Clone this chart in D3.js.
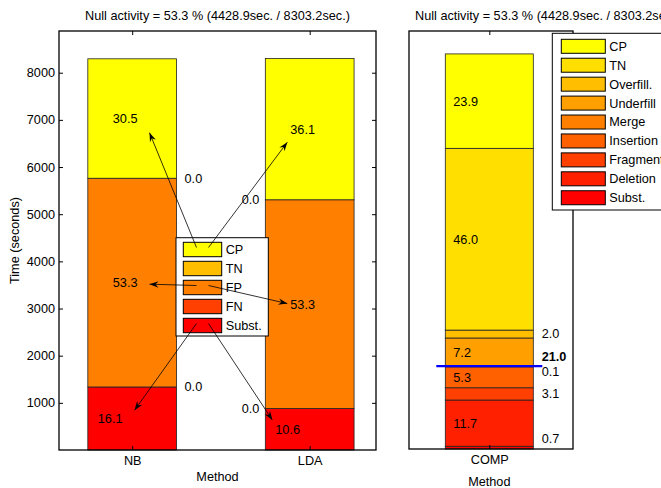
<!DOCTYPE html>
<html>
<head>
<meta charset="utf-8">
<title>Null activity</title>
<script src="https://d3js.org/d3.v7.min.js"></script>
<style>
body {margin:0; background:white;}
svg {display:block; font-family:"Liberation Sans", Arial, sans-serif; font-size:12.7px;}
</style>
</head>
<body>
<svg width="661" height="488"></svg>
<script>
// data
var methods = ["NB", "LDA"];
var keys = ["CP", "TN", "FP", "FN", "Subst."];
var nbPct = [30.5, 0.0, 53.3, 0.0, 16.1];
var ldaPct = [36.1, 0.0, 53.3, 0.0, 10.6];
var totalSec = 8303.2;
var nullSec = 4428.9;
var yTicks = [1000, 2000, 3000, 4000, 5000, 6000, 7000, 8000];

var compMethod = ["COMP"];
var compKeys = ["CP", "TN", "Overfill.", "Underfill", "Merge", "Insertion", "Fragmentation", "Deletion", "Subst."];
var compPct = [23.9, 46.0, 2.0, 7.2, 0.1, 5.3, 3.1, 11.7, 0.7];
var compErrPct = 21.0;

var font = "Liberation Sans, Arial, sans-serif";
var svg = d3.select("svg");
var title = "Null activity = " + (nullSec / totalSec * 100).toFixed(1) + " % (" +
  nullSec.toFixed(1) + "sec. / " + totalSec.toFixed(1) + "sec.)";

// autumn colormap, red at the bottom, yellow on top
function autumn(list) {
  var n = list.length;
  return d3.scaleOrdinal().domain(list)
    .range(list.map(function(k, i) { return d3.interpolateRgb("#ff0000", "#ffff00")((n - 1 - i) / (n - 1)); }));
}

svg.append("defs").append("marker")
  .attr("id", "head")
  .attr("viewBox", "-10 -5 12 10")
  .attr("refX", 0).attr("refY", 0)
  .attr("markerWidth", 12).attr("markerHeight", 10)
  .attr("markerUnits", "userSpaceOnUse")
  .attr("orient", "auto")
  .append("path")
  .attr("d", "M0,0 L-9,-3.2 L-6,0 L-9,3.2 Z")
  .attr("fill", "black");

// ---------------- left axes ----------------
var L = {left: 59, top: 31, right: 376, bottom: 450};
var x = d3.scalePoint().domain(methods).range([132.2, 309.7]);
var bw = x.step() * 0.5;
var y = d3.scaleLinear().domain([0, totalSec * 1.07]).range([L.bottom, L.top]);
var color = autumn(keys);

var rows = methods.map(function(m, j) {
  var pct = [nbPct, ldaPct][j];
  var r = {method: m};
  keys.forEach(function(k, i) { r[k] = pct[i] * totalSec / 100; });
  return r;
});
var stack = d3.stack().keys(keys.slice().reverse())(rows);

var gL = svg.append("g");
stack.forEach(function(layer) {
  gL.selectAll(null)
    .data(layer)
    .enter()
    .append("rect")
    .attr("x", function(d) { return x(d.data.method) - bw / 2; })
    .attr("y", function(d) { return y(d[1]); })
    .attr("width", bw)
    .attr("height", function(d) { return y(d[0]) - y(d[1]); })
    .attr("fill", color(layer.key))
    .attr("stroke", "#222")
    .attr("stroke-width", 0.8);
});

var labelNodes = {};
stack.forEach(function(layer) {
  layer.forEach(function(d, j) {
    var m = d.data.method;
    var pct = d.data[layer.key] / totalSec * 100;
    var mid = (y(d[0]) + y(d[1])) / 2;
    var t = gL.append("text").attr("dy", "0.35em").text(pct.toFixed(1));
    if (pct > 0) {
      t.attr("x", x(m) - bw / 2 + (layer.index === 0 ? 10 : 25)).attr("y", mid);
      labelNodes[layer.key + "|" + m] = t.node();
    } else if (j === 0) {
      t.attr("x", x(m) + bw / 2 + 8).attr("y", mid);
    } else {
      t.attr("x", x(m) - bw / 2 - 6).attr("y", mid).attr("text-anchor", "end");
    }
  });
});

// axes
svg.append("g").attr("transform", "translate(0," + L.bottom + ")")
  .call(d3.axisBottom(x).tickSizeInner(-4).tickSizeOuter(0).tickPadding(6))
  .attr("font-family", font).attr("font-size", 12.7)
  .call(function(g) { g.select(".domain").remove(); });
svg.append("g").attr("transform", "translate(0," + L.top + ")")
  .call(d3.axisTop(x).tickSizeInner(-4).tickSizeOuter(0).tickFormat(""))
  .call(function(g) { g.select(".domain").remove(); });
svg.append("g").attr("transform", "translate(" + L.left + ",0)")
  .call(d3.axisLeft(y).tickValues(yTicks).tickFormat(d3.format("d")).tickSizeInner(-4).tickSizeOuter(0).tickPadding(4))
  .attr("font-family", font).attr("font-size", 12.7)
  .call(function(g) { g.select(".domain").remove(); });
svg.append("g").attr("transform", "translate(" + L.right + ",0)")
  .call(d3.axisRight(y).tickValues(yTicks).tickSizeInner(-4).tickSizeOuter(0).tickFormat(""))
  .call(function(g) { g.select(".domain").remove(); });
svg.append("rect")
  .attr("x", L.left).attr("y", L.top)
  .attr("width", L.right - L.left).attr("height", L.bottom - L.top)
  .attr("fill", "none").attr("stroke", "black").attr("stroke-width", 1.3);

svg.append("text").attr("x", (L.left + L.right) / 2).attr("y", 15.7).attr("dy", "0.35em")
  .attr("text-anchor", "middle").text(title);
svg.append("text").attr("x", (L.left + L.right) / 2).attr("y", 476.7).attr("dy", "0.35em")
  .attr("text-anchor", "middle").text("Method");
svg.append("text").attr("transform", "translate(15," + (L.top + L.bottom) / 2 + ") rotate(-90)")
  .attr("dy", "0.35em").attr("text-anchor", "middle").text("Time (seconds)");

// legend
var leg = {x: 176, y: 237.7, w: 92.3, h: 98.3};
svg.append("rect").attr("x", leg.x).attr("y", leg.y).attr("width", leg.w).attr("height", leg.h)
  .attr("fill", "white").attr("stroke", "black").attr("stroke-width", 1);
var legRow = svg.selectAll(null).data(keys).enter().append("g")
  .attr("transform", function(k, i) { return "translate(" + (leg.x + 7.3) + "," + (leg.y + 4.6 + i * 19) + ")"; });
legRow.append("rect").attr("width", 38.4).attr("height", 14.4)
  .attr("fill", function(k) { return color(k); }).attr("stroke", "black").attr("stroke-width", 1);
legRow.append("text").attr("x", 42.4).attr("y", 7.2).attr("dy", "0.35em").text(function(k) { return k; });

// arrows from legend entries to the labels
keys.forEach(function(k, i) {
  methods.forEach(function(m, j) {
    var node = labelNodes[k + "|" + m];
    if (!node) return;
    var b = node.getBBox();
    var tx = leg.x + 7.3 + 19.2 + (j === 0 ? -6 : 6);
    var ty = leg.y + 4.6 + i * 19 + 7.2 - 2;
    var cy = b.y + b.height / 2 + 1;
    var hx = tx > b.x + b.width ? b.x + b.width + 12 : (tx < b.x ? b.x - 3 : b.x + b.width / 2);
    var hy = cy + (ty - cy) * 0.1;
    svg.append("line")
      .attr("x1", tx).attr("y1", ty).attr("x2", hx).attr("y2", hy)
      .attr("stroke", "black").attr("stroke-width", 0.8)
      .attr("marker-end", "url(#head)");
  });
});

// ---------------- right axes ----------------
var R = {left: 409, top: 31, right: 573, bottom: 449};
var xc = d3.scalePoint().domain(compMethod).range([405.6, 573]);
var bwc = 88;
var yc = d3.scaleLinear().domain([0, 100 * 1.058]).range([R.bottom, R.top]);
var colorC = autumn(compKeys);

var crow = {method: compMethod[0]};
compKeys.forEach(function(k, i) { crow[k] = compPct[i]; });
var cstack = d3.stack().keys(compKeys.slice().reverse())([crow]);

var gR = svg.append("g");
cstack.forEach(function(layer) {
  gR.selectAll(null)
    .data(layer)
    .enter()
    .append("rect")
    .attr("x", function(d) { return xc(d.data.method) - bwc / 2; })
    .attr("y", function(d) { return yc(d[1]); })
    .attr("width", bwc)
    .attr("height", function(d) { return yc(d[0]) - yc(d[1]); })
    .attr("fill", colorC(layer.key))
    .attr("stroke", "#222")
    .attr("stroke-width", 0.8);
});

var cx = xc(compMethod[0]);
var errY = yc(compErrPct);
svg.append("line")
  .attr("x1", cx - bwc / 2 - 9).attr("x2", cx + bwc / 2 + 9)
  .attr("y1", errY).attr("y2", errY)
  .attr("stroke", "#0000ff").attr("stroke-width", 2.2);

// labels: big values inside, small ones to the right
var sideLabels = [{v: compErrPct, y: errY - 9, bold: true}];
cstack.forEach(function(layer) {
  var d = layer[0];
  var pct = d.data[layer.key];
  var mid = (yc(d[0]) + yc(d[1])) / 2;
  if (pct >= 5) {
    gR.append("text").attr("x", cx - bwc / 2 + 8).attr("y", mid).attr("dy", "0.35em").text(pct.toFixed(1));
  } else {
    sideLabels.push({v: pct, y: mid, bold: false});
  }
});
sideLabels.sort(function(a, b) { return a.y - b.y; });
var prevY = -100;
sideLabels.forEach(function(s) {
  if (!s.bold) s.y = Math.min(Math.max(s.y, prevY + 15), R.bottom - 10);
  prevY = s.y;
  gR.append("text").attr("x", cx + bwc / 2 + 8.4).attr("y", s.y).attr("dy", "0.35em")
    .attr("font-weight", s.bold ? "bold" : null).text(s.v.toFixed(1));
});

svg.append("g").attr("transform", "translate(0," + R.bottom + ")")
  .call(d3.axisBottom(xc).tickSizeInner(-4).tickSizeOuter(0).tickPadding(6))
  .attr("font-family", font).attr("font-size", 12.7)
  .call(function(g) { g.select(".domain").remove(); });
svg.append("g").attr("transform", "translate(0," + R.top + ")")
  .call(d3.axisTop(xc).tickSizeInner(-4).tickSizeOuter(0).tickFormat(""))
  .call(function(g) { g.select(".domain").remove(); });
svg.append("rect")
  .attr("x", R.left).attr("y", R.top)
  .attr("width", R.right - R.left).attr("height", R.bottom - R.top)
  .attr("fill", "none").attr("stroke", "black").attr("stroke-width", 1.3);

svg.append("text").attr("x", 415).attr("y", 15.7).attr("dy", "0.35em").text(title);
svg.append("text").attr("x", cx).attr("y", 481.5).attr("dy", "0.35em")
  .attr("text-anchor", "middle").text("Method");

// right legend
var leg2 = {x: 552.3, y: 33.3, w: 160, h: 176.7};
svg.append("rect").attr("x", leg2.x).attr("y", leg2.y).attr("width", leg2.w).attr("height", leg2.h)
  .attr("fill", "white").attr("stroke", "black").attr("stroke-width", 1);
var legRow2 = svg.selectAll(null).data(compKeys).enter().append("g")
  .attr("transform", function(k, i) { return "translate(" + (leg2.x + 9) + "," + (leg2.y + 6 + i * 18.93) + ")"; });
legRow2.append("rect").attr("width", 44).attr("height", 14)
  .attr("fill", function(k) { return colorC(k); }).attr("stroke", "black").attr("stroke-width", 1);
legRow2.append("text").attr("x", 48).attr("y", 7).attr("dy", "0.35em").text(function(k) { return k; });
</script>
</body>
</html>
